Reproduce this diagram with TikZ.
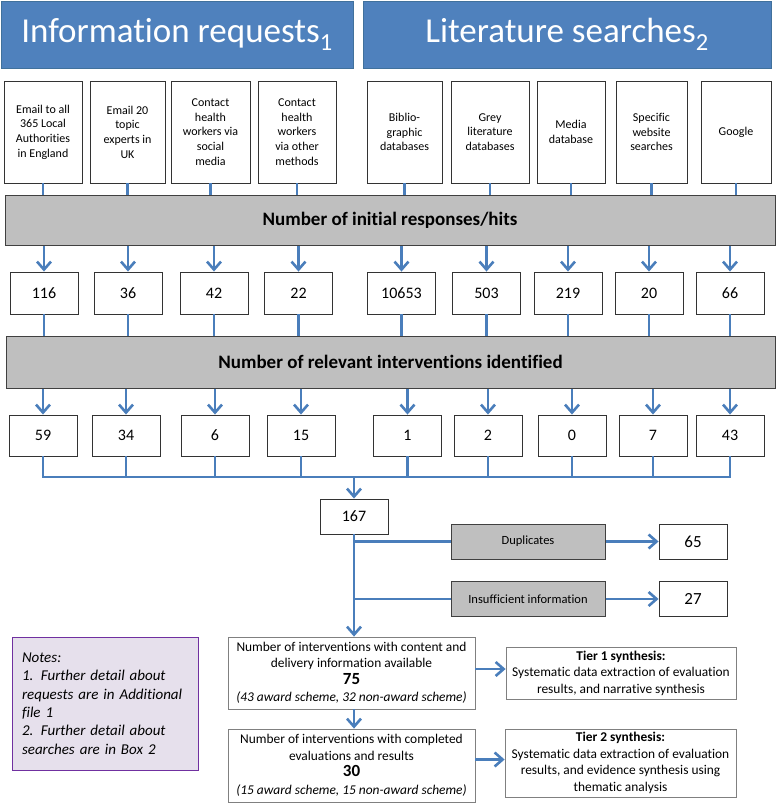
\documentclass[tikz,border=0pt]{standalone}
\usepackage{fontspec}
\setmainfont{Carlito}[Ligatures=NoCommon]
\usetikzlibrary{arrows.meta}
\definecolor{hdrblue}{HTML}{4F81BD}
\definecolor{hdrline}{HTML}{41719C}
\definecolor{conblue}{HTML}{4A7EBB}
\definecolor{bandgray}{HTML}{BFBFBF}
\definecolor{notefill}{HTML}{E6E0EC}
\definecolor{noteline}{HTML}{7030A0}
\tikzset{
  x=1pt, y=-1pt,
  header/.style={draw=hdrline, line width=1pt, fill=hdrblue, text=white, font=\fontsize{35}{38}\selectfont, minimum height=67pt, inner sep=0pt},
  srcbox/.style={draw=black!80, line width=0.9pt, fill=white, minimum height=102pt, inner sep=1pt, align=center, font=\fontsize{12}{14.6}\selectfont},
  band/.style={draw=black!75, line width=1pt, fill=bandgray, font=\bfseries\fontsize{19}{22}\selectfont, inner sep=0pt},
  numbox/.style={draw=black!80, line width=0.9pt, fill=white, minimum width=68pt, font=\fontsize{16}{18}\selectfont, inner sep=0pt},
  smallband/.style={draw=black!75, line width=1pt, fill=bandgray, minimum width=154pt, minimum height=35pt, font=\fontsize{12.5}{15}\selectfont, inner sep=0pt},
  resbox/.style={draw=black!80, line width=0.9pt, fill=white, minimum width=68pt, minimum height=35pt, font=\fontsize{17}{20}\selectfont, inner sep=0pt},
  tierbox/.style={draw=black!50, line width=0.8pt, fill=white, align=center, inner sep=0pt, font=\fontsize{13.4}{16.5}\selectfont},
  conn/.style={draw=conblue, line width=2.6pt},
  arr/.style={conn, -{Straight Barb[length=8pt,width=14pt]}},
}
\begin{document}
\begin{tikzpicture}
\useasboundingbox (0,0) rectangle (778,803);
% headers
\node[header, minimum width=352pt] (h1) at (177,34.5) {\raisebox{-3pt}{Information requests$_{\mathrm{1}}$}};
\node[header, minimum width=408pt] (h2) at (567,34.5) {\raisebox{-3pt}{Literature searches$_{\mathrm{2}}$}};
% sources
\node[srcbox, minimum width=78pt] (s1) at (43,132) {Email to all\\365 Local\\Authorities\\in England};
\node[srcbox, minimum width=75pt] (s2) at (127.5,132) {Email 20\\topic\\experts in\\UK};
\node[srcbox, minimum width=79pt] (s3) at (210.5,132) {Contact\\health\\workers via\\social\\media};
\node[srcbox, minimum width=78pt] (s4) at (297,132) {Contact\\health\\workers\\via other\\methods};
\node[srcbox, minimum width=75pt] (s5) at (404.5,132) {Biblio-\\graphic\\databases};
\node[srcbox, minimum width=78pt] (s6) at (490,132) {Grey\\literature\\databases};
\node[srcbox, minimum width=68pt] (s7) at (571,132) {Media\\database};
\node[srcbox, minimum width=71pt] (s8) at (651.5,132) {Specific\\website\\searches};
\node[srcbox, minimum width=70pt] (s9) at (736,132) {Google};
% band 1
\node[band, minimum width=770pt, minimum height=50pt] (b1) at (390,220) {Number of initial responses/hits};
% row 1 numbers
\foreach \n/\x/\t in {1/44/116, 2/128/36, 3/214/42, 4/298.5/22, 5/401.5/10653, 6/486.5/503, 7/568/219, 8/649/20, 9/730/66}
  \node[numbox, minimum height=42pt] (n\n) at (\x,293) {\t};
% band 2
\node[band, minimum width=769pt, minimum height=52pt] (b2) at (390.5,362) {Number of relevant interventions identified};
% row 2 numbers
\foreach \n/\x/\t in {1/43/59, 2/126/34, 3/215/6, 4/301/15, 5/407.5/1, 6/488/2, 7/572/0, 8/653/7, 9/730/43}
  \node[numbox, minimum height=41pt] (m\n) at (\x,435.5) {\t};
% connectors
\foreach \n in {1,...,9} {
  \draw[conn] (s\n.south) -- (s\n.south |- b1.north);
  \draw[arr] (n\n.north |- b1.south) -- (n\n.north);
  \draw[conn] (n\n.south) -- (n\n.south |- b2.north);
  \draw[arr] (m\n.north |- b2.south) -- (m\n.north);
}
% bus
\coordinate (bus) at (354,477);
\foreach \n in {1,...,9}
  \draw[conn] (m\n.south) -- (m\n.south |- bus);
\draw[conn, line cap=rect] (m1.south |- bus) -- (m9.south |- bus);
\node[numbox, minimum height=35pt] (t167) at (354,516.5) {167};
\draw[arr] (bus) -- (t167.north);
% exclusions
\node[smallband] (dup) at (528,541.5) {Duplicates};
\node[resbox] (r65) at (693,541.5) {65};
\node[smallband] (ins) at (528,599) {Insufficient information};
\node[resbox] (r27) at (693,599) {27};
% lower boxes
\node[tierbox, minimum width=247pt, minimum height=72pt] (c75) at (351.5,673)
  {Number of interventions with content and\\delivery information available\\{\bfseries\fontsize{17}{21}\selectfont 75}\\[1pt]{\itshape (43 award scheme, 32 non-award scheme)}};
\node[tierbox, minimum width=247pt, minimum height=73pt] (c30) at (351.5,765.5)
  {Number of interventions with completed\\evaluations and results\\{\bfseries\fontsize{17}{21}\selectfont 30}\\[1pt]{\itshape (15 award scheme, 15 non-award scheme)}};
\node[tierbox, minimum width=230pt, minimum height=52pt] (t1) at (621,673)
  {\textbf{Tier 1 synthesis:}\\Systematic data extraction of evaluation\\results, and narrative synthesis};
\node[tierbox, minimum width=231pt, minimum height=68pt] (t2) at (620.5,763)
  {\textbf{Tier 2 synthesis:}\\Systematic data extraction of evaluation\\results, and evidence synthesis using\\thematic analysis};
% flow below 167
\draw[arr] (t167.south) -- (t167.south |- c75.north);
\draw[conn] (t167.south |- dup.west) -- (dup.west);
\draw[conn] (t167.south |- ins.west) -- (ins.west);
\draw[arr] (dup.east) -- (r65.west);
\draw[arr] (ins.east) -- (r27.west);
\draw[arr] (c75.south -| t167.south) -- (c30.north -| t167.south);
\draw[arr] ([yshift=4pt]c75.east) -- ([yshift=4pt]c75.east -| t1.west);
\draw[arr] ([yshift=6pt]c30.east) -- ([yshift=6pt]c30.east -| t2.west);
% notes
\node[draw=noteline, line width=0.9pt, fill=notefill, minimum width=186pt, minimum height=133pt, text width=166pt, align=left, inner sep=0pt,
  font=\itshape\fontsize{15}{18.3}\selectfont] (notes) at (105,703.5)
  {Notes:\\1. Further detail about\\requests are in Additional\\file 1\\2. Further detail about\\searches are in Box 2};
\end{tikzpicture}
\end{document}
